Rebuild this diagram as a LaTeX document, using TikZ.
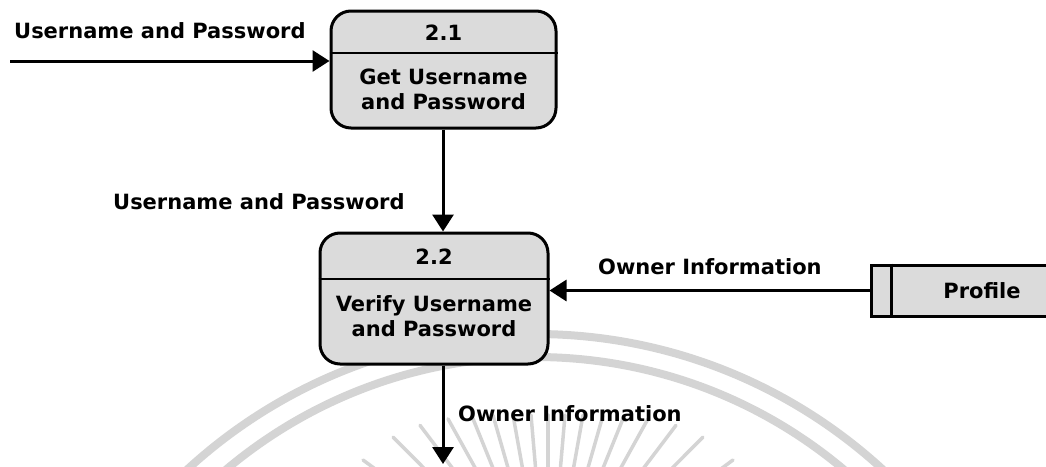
\documentclass[tikz,border=0pt]{standalone}
\usepackage{fontspec}
\setmainfont{DejaVu Sans}
\usetikzlibrary{arrows.meta}
\definecolor{boxfill}{HTML}{DBDBDB}
\definecolor{seal}{HTML}{D4D4D4}
\begin{document}
\begin{tikzpicture}[x=1pt,y=-1pt,
  flow/.style={line width=3pt,-{Triangle[length=17pt,width=21pt]}},
  procbox/.style={draw,line width=3pt,rounded corners=20pt,fill=boxfill,inner sep=0pt},
  storebox/.style={draw,line width=3pt,fill=boxfill,inner sep=0pt},
  lbl/.style={font=\fontsize{21}{25}\selectfont\bfseries,inner sep=0pt},
  divider/.style={line width=2pt},
  sealline/.style={draw=seal,line width=8pt},
  sealray/.style={draw=seal,line width=3.5pt,line cap=round}]
\useasboundingbox (0,0) rectangle (1046,466);
\clip (0,0) rectangle (1046,466);

% faint seal in the background: two arcs and a fan of rays
\draw[sealline] (535,848) circle[radius=514pt];
\draw[sealline] (535,837) circle[radius=480pt];
\foreach \dx in {-185,-155,-128,-100,-76,-55,-35,-17,0,17,35,55,76,100,128,155,185} {
  % upper end of each ray sits on a flat curve, rays lean towards the middle
  \pgfmathsetmacro\ty{415+45*(abs(\dx)/185)^4}
  \pgfmathsetmacro\phi{90-0.29*abs(\dx)}
  \pgfmathsetmacro\sx{-sign(\dx)*110*cos(\phi)}
  \pgfmathsetmacro\sy{110*sin(\phi)}
  \draw[sealray] (548+\dx,\ty) -- ++(\sx,\sy);
}

% process 2.1
\node[procbox,minimum width=225pt,minimum height=117pt] (p1) at (443.5,69.5) {};
\draw[divider] ([yshift=-43pt]p1.north west) -- ([yshift=-43pt]p1.north east);
\node[lbl] (p1id) at (443.5,33) {2.1};
\node[lbl,align=center] (p1txt) at (443.5,89) {Get Username\\and Password};

% process 2.2
\node[procbox,minimum width=228pt,minimum height=131pt] (p2) at (434,298.5) {};
\draw[divider] ([yshift=-47pt]p2.north west) -- ([yshift=-47pt]p2.north east);
\node[lbl] (p2id) at (434,257) {2.2};
\node[lbl,align=center] (p2txt) at (434,316) {Verify Username\\and Password};

% data store
\node[storebox,anchor=west,minimum width=200pt,minimum height=51pt] (ds) at (870,290.5) {};
\draw[line width=3pt] ([xshift=21pt]ds.north west) -- ([xshift=21pt]ds.south west);
\node[lbl] (dstxt) at (982,291) {Profile};

% flows
\coordinate (src) at (10,61);
\coordinate (sink) at (443,464);
\draw[flow] (src) -- (src -| p1.west);
\draw[flow] (p1.south -| sink) -- (p2.north -| sink);
\draw[flow] (ds.west) -- (ds.west -| p2.east);
\draw[flow] (p2.south -| sink) -- (sink);

% flow labels
\node[lbl,anchor=base west] (l1) at (14,38) {Username and Password};
\node[lbl,anchor=base west] (l2) at (113,209) {Username and Password};
\node[lbl,anchor=base west] (l3) at (598,274) {Owner Information};
\node[lbl,anchor=base west] (l4) at (458,421) {Owner Information};
\end{tikzpicture}
\end{document}
